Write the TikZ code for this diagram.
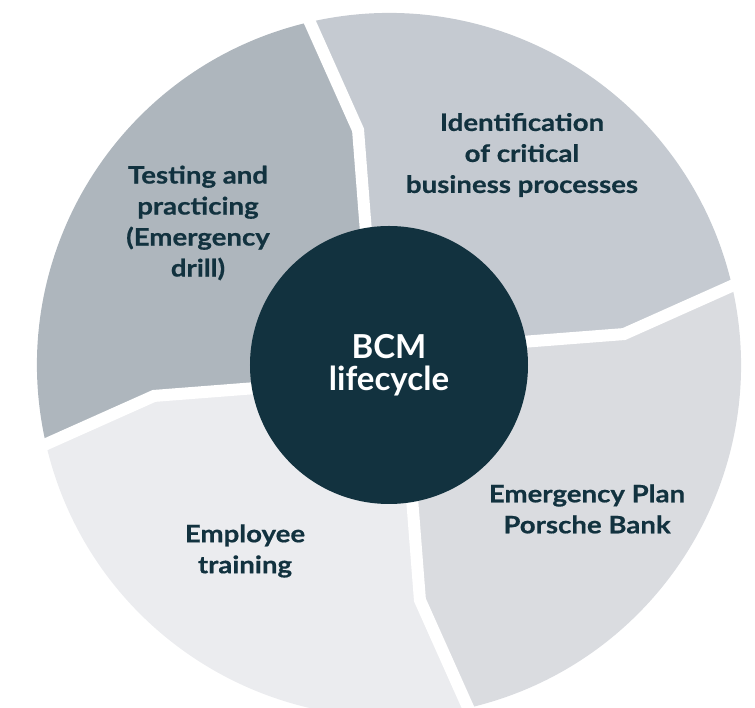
\documentclass[tikz,border=0pt]{standalone}
\usepackage{fontspec}
\setmainfont{Lato}
\newfontfamily\phasefont{Lato}[FakeStretch=1.15,FakeBold=0.6]
\usetikzlibrary{calc}
\definecolor{bcmdark}{HTML}{12323F}
\definecolor{segident}{HTML}{C5CAD1}
\definecolor{segplan}{HTML}{DADCE0}
\definecolor{segtrain}{HTML}{EBECEF}
\definecolor{segtest}{HTML}{AEB6BD}

\begin{document}
\begin{tikzpicture}
	[x=1pt,y=1pt,
	 gap/.style={draw=white,line width=12pt,line join=miter},
	 phase/.style={align=center,text=bcmdark,font=\phasefont\bfseries\fontsize{24}{31}\selectfont},
	 hub/.style={circle,fill=bcmdark,minimum size=278pt,inner sep=0pt,align=center,text=white,font=\bfseries\fontsize{33}{32}\selectfont}]
	\useasboundingbox (-389,-343) rectangle (366,365);
	\clip (-389,-343) rectangle (366,365);
	
	% outer end, kink and inner end of each gap
	\foreach \k in {0,1,2,3} {
		\coordinate (o\k) at ({103-90*\k}:352);
		\coordinate (m\k) at ({97.5-90*\k}:237);
		\coordinate (i\k) at ({100.5-90*\k}:120);
	}
	
	\fill[segident] (0,0) -- (i0) -- (m0) -- (o0) arc[start angle=103,end angle=13,radius=352] -- (m1) -- (i1) -- cycle;
	\fill[segplan] (0,0) -- (i1) -- (m1) -- (o1) arc[start angle=13,end angle=-77,radius=352] -- (m2) -- (i2) -- cycle;
	\fill[segtrain] (0,0) -- (i2) -- (m2) -- (o2) arc[start angle=-77,end angle=-167,radius=352] -- (m3) -- (i3) -- cycle;
	\fill[segtest] (0,0) -- (i3) -- (m3) -- (o3) arc[start angle=-167,end angle=-257,radius=352] -- (m0) -- (i0) -- cycle;
	
	\foreach \k in {0,1,2,3}
		\draw[gap] (i\k) -- (m\k) -- ($(m\k)!1.2!(o\k)$);
	
	\node[hub] (bcm) at (0,0) {BCM\\lifecycle};
	
	\node[phase] (ident) at (133,210) {Identification\\of critical\\business processes};
	\node[phase] (plan) at (198,-144) {Emergency Plan\\Porsche Bank};
	\node[phase] (train) at (-144,-186) {Employee\\training};
	\node[phase] (test) at (-191,142) {Testing and\\practicing\\(Emergency\\drill)};
	
\end{tikzpicture}
\end{document}
